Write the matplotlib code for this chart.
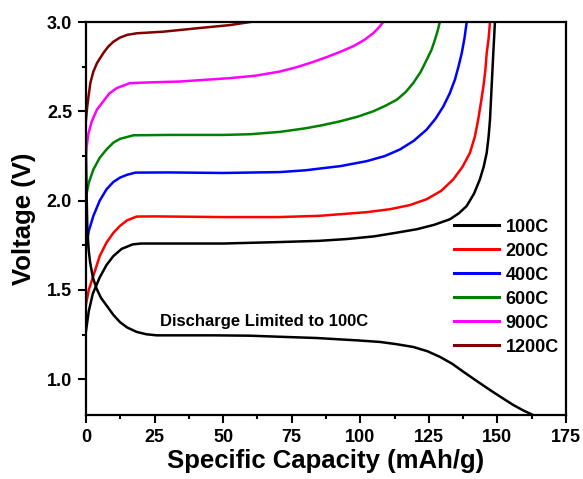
import matplotlib
matplotlib.use("Agg")
import matplotlib.pyplot as plt
from matplotlib.ticker import MultipleLocator

plt.rcParams['font.family'] = ['Liberation Sans', 'DejaVu Sans']
plt.rcParams['font.weight'] = 'bold'

# 100C charge
x100 = [0, 1, 2.5, 5, 7.5, 10, 13, 17, 20, 30, 50, 70, 85, 95, 105, 113, 120.6, 127, 132.7, 136, 138.8, 141.5, 143.6, 145, 146.1, 146.8, 147.3, 147.9, 148.5, 149.1]
v100 = [1.27, 1.38, 1.48, 1.57, 1.64, 1.69, 1.73, 1.755, 1.76, 1.76, 1.76, 1.768, 1.775, 1.785, 1.80, 1.82, 1.84, 1.865, 1.896, 1.93, 1.97, 2.04, 2.119, 2.19, 2.268, 2.36, 2.454, 2.64, 2.826, 3.0]
# 200C charge
x200 = [0, 1, 2.7, 5, 7.5, 10, 12.4, 15, 18.5, 25, 50, 70, 85, 92.6, 102, 110.8, 118, 124.2, 129.5, 133.9, 137.3, 140, 141.8, 143, 144, 144.9, 145.6, 146.1, 146.8, 147.3]
v200 = [1.42, 1.50, 1.58, 1.69, 1.766, 1.82, 1.859, 1.89, 1.911, 1.912, 1.908, 1.908, 1.915, 1.924, 1.935, 1.952, 1.975, 2.008, 2.055, 2.119, 2.19, 2.268, 2.36, 2.454, 2.55, 2.64, 2.73, 2.826, 2.91, 3.0]
# 400C charge
x400 = [0, 1, 2.7, 5, 7.5, 10, 12.4, 15, 18, 30, 50, 70.7, 80, 87, 92.6, 102.3, 109, 114.5, 119.5, 124.2, 127.5, 130.3, 132.6, 134.5, 135.8, 137, 138, 138.8]
v400 = [1.73, 1.83, 1.915, 2.0, 2.064, 2.105, 2.129, 2.145, 2.157, 2.158, 2.155, 2.16, 2.17, 2.183, 2.193, 2.221, 2.25, 2.287, 2.335, 2.398, 2.46, 2.528, 2.60, 2.677, 2.75, 2.826, 2.91, 3.0]
# 600C charge
x600 = [0, 1, 2.7, 5, 7.5, 10, 12.4, 17.3, 30, 50, 60, 70.7, 80, 86, 92.6, 99, 104.7, 109, 113.3, 116.5, 119.3, 122, 124.2, 126, 127.2, 128.2, 129]
v600 = [2.02, 2.10, 2.175, 2.24, 2.287, 2.325, 2.346, 2.366, 2.368, 2.368, 2.372, 2.385, 2.405, 2.422, 2.444, 2.47, 2.50, 2.53, 2.565, 2.607, 2.658, 2.72, 2.788, 2.845, 2.90, 2.95, 3.0]
# 900C charge
x900 = [0, 0.8, 2.1, 4, 6.3, 8.5, 11.2, 16, 25, 34.3, 52.5, 62, 70.7, 77, 82.9, 88, 93, 97.5, 101.5, 104.7, 106.8, 108.4]
v900 = [2.27, 2.37, 2.444, 2.51, 2.556, 2.60, 2.63, 2.658, 2.663, 2.667, 2.686, 2.70, 2.723, 2.748, 2.777, 2.805, 2.835, 2.865, 2.90, 2.937, 2.97, 3.0]
# 1200C charge
x1200 = [0, 0.4, 0.85, 1.6, 2.7, 4, 5.1, 6.5, 8.1, 10, 12.4, 15, 18.5, 28.2, 40.4, 52.5, 59.8]
v1200 = [2.45, 2.52, 2.575, 2.66, 2.723, 2.77, 2.797, 2.83, 2.862, 2.89, 2.913, 2.928, 2.937, 2.946, 2.965, 2.983, 3.0]
# 100C discharge
xdis = [0, 0.2, 0.5, 1, 1.5, 2.5, 3.9, 5.5, 7.5, 10, 12.4, 15, 18.5, 22, 25.8, 35, 46.4, 59.8, 70.7, 84.1, 98.7, 107.2, 113, 119.3, 124.5, 129.1, 133.5, 137.6, 142.5, 147.3, 151.5, 155.8, 159.5, 163]
vdis = [2.28, 2.05, 1.84, 1.72, 1.655, 1.57, 1.506, 1.455, 1.413, 1.36, 1.32, 1.29, 1.265, 1.252, 1.246, 1.246, 1.246, 1.244, 1.238, 1.231, 1.218, 1.209, 1.197, 1.181, 1.157, 1.125, 1.087, 1.042, 0.99, 0.94, 0.898, 0.856, 0.825, 0.80]

labels = ['100C', '200C', '400C', '600C', '900C', '1200C']
colors = ['#000000', '#FF0000', '#0000FF', '#008000', '#FF00FF', '#800000']
annotation = 'Discharge Limited to 100C'

fig = plt.figure(figsize=(5.83, 4.79), dpi=100)
ax = fig.add_axes([0.1475, 0.1336, 0.8233, 0.8204])

series = [(x100, v100), (x200, v200), (x400, v400), (x600, v600), (x900, v900), (x1200, v1200)]
lw = 1.8
for (xs, vs), lab, col in zip(series, labels, colors):
    ax.plot(xs, vs, color=col, lw=lw, label=lab, solid_joinstyle='round')
ax.plot(xdis, vdis, color='#000000', lw=lw, solid_joinstyle='round')

ax.text(27, 1.325, annotation, fontsize=12, fontweight='bold', va='center', ha='left')

ax.set_xlim(0, 175)
ax.set_ylim(0.8, 3.0)
ax.xaxis.set_major_locator(MultipleLocator(25))
ax.xaxis.set_minor_locator(MultipleLocator(12.5))
ax.yaxis.set_major_locator(MultipleLocator(0.5))
ax.yaxis.set_minor_locator(MultipleLocator(0.25))
ax.tick_params(which='both', direction='out', width=1.5, top=False, right=False, labelsize=13, pad=4)
ax.tick_params(which='major', length=6)
ax.tick_params(which='minor', length=3)
for lbl in ax.get_xticklabels() + ax.get_yticklabels():
    lbl.set_fontweight('bold')
for sp in ax.spines.values():
    sp.set_linewidth(1.6)

ax.set_xlabel('Specific Capacity (mAh/g)', fontsize=18.5, fontweight='bold', labelpad=2)
ax.set_ylabel('Voltage (V)', fontsize=18.5, fontweight='bold', labelpad=8)

leg = ax.legend(loc='upper left', bbox_to_anchor=(0.767, 0.50), frameon=False,
                fontsize=13, handlelength=2.5, handletextpad=0.35, labelspacing=0.39,
                borderpad=0, borderaxespad=0)
for t in leg.get_texts():
    t.set_fontweight('bold')
for h in leg.get_lines():
    h.set_linewidth(2.2)

fig.savefig('out.png', dpi=100)
